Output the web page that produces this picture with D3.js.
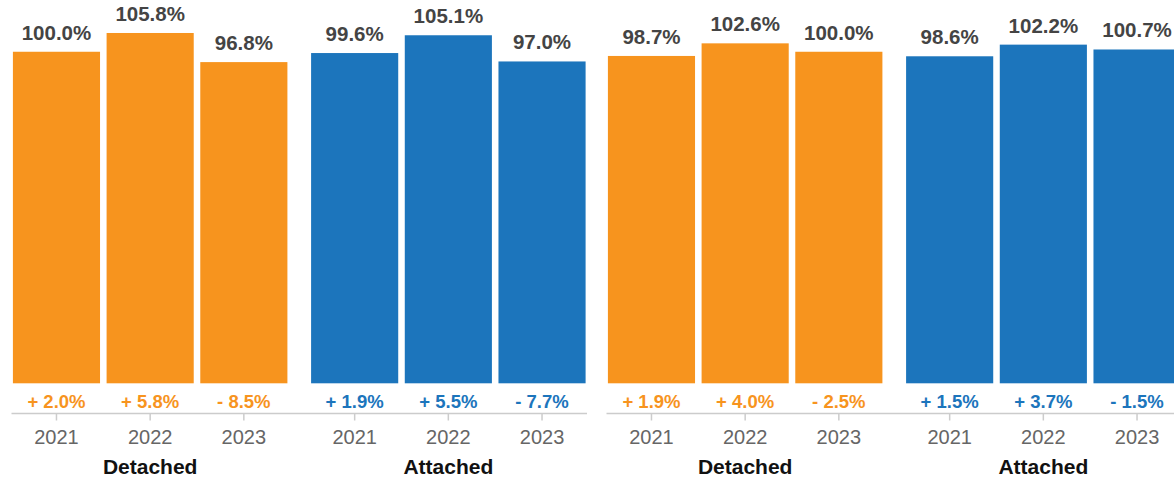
<!DOCTYPE html>
<html>
<head>
<meta charset="utf-8">
<script src="https://cdn.jsdelivr.net/npm/d3@7"></script>
<style>
  html, body { margin: 0; padding: 0; background: #fff; }
  svg { display: block; }
</style>
</head>
<body>
<svg id="chart" width="1174" height="481"></svg>
<script>
// ---- data ----
const years = ["2021", "2022", "2023"];
const groupLabels = ["Detached", "Attached"];
const leftDetached = [100.0, 105.8, 96.8];
const leftAttached = [99.6, 105.1, 97.0];
const rightDetached = [98.7, 102.6, 100.0];
const rightAttached = [98.6, 102.2, 100.7];
const leftDetachedChange = [2.0, 5.8, -8.5];
const leftAttachedChange = [1.9, 5.5, -7.7];
const rightDetachedChange = [1.9, 4.0, -2.5];
const rightAttachedChange = [1.5, 3.7, -1.5];

const colors = { Detached: "#F7941E", Attached: "#1C75BC" };

const charts = [
  { offset: 0, series: [
      { name: "Detached", values: leftDetached, change: leftDetachedChange },
      { name: "Attached", values: leftAttached, change: leftAttachedChange } ] },
  { offset: 595, series: [
      { name: "Detached", values: rightDetached, change: rightDetachedChange },
      { name: "Attached", values: rightAttached, change: rightAttachedChange } ] }
];

const svg = d3.select("#chart");
const font = "'Liberation Sans', Arial, Helvetica, sans-serif";
const baseY = 383.3;
const axisY = 413.5;

const y = d3.scaleLinear().domain([-2.5, 116]).range([baseY, 0]);
const x0 = d3.scaleBand().domain(groupLabels).range([11.5, 587]).paddingInner(0.07).paddingOuter(0);
const x1 = d3.scaleBand().domain(years).range([0, x0.bandwidth()]).paddingInner(0.07).paddingOuter(0.015);

const fmtVal = v => v.toFixed(1) + "%";
const fmtChg = v => (v >= 0 ? "+ " : "- ") + Math.abs(v).toFixed(1) + "%";

charts.forEach(ch => {
  const g = svg.append("g").attr("transform", `translate(${ch.offset},0)`);

  const axisG = g.append("g").attr("transform", `translate(0,${axisY})`);
  axisG.append("line")
    .attr("x1", x0.range()[0]).attr("x2", x0.range()[1])
    .attr("y1", 0).attr("y2", 0)
    .attr("stroke", "#cccccc").attr("stroke-width", 1.5);

  ch.series.forEach(s => {
    const gx = x0(s.name);
    const sg = g.append("g").attr("transform", `translate(${gx},0)`);
    const data = years.map((yr, i) => ({ yr, v: s.values[i], c: s.change[i] }));

    sg.selectAll("rect").data(data).join("rect")
      .attr("x", d => x1(d.yr))
      .attr("width", x1.bandwidth())
      .attr("y", d => y(d.v))
      .attr("height", d => baseY - y(d.v))
      .attr("fill", colors[s.name]);

    sg.selectAll("text.val").data(data).join("text")
      .attr("class", "val")
      .attr("x", d => x1(d.yr) + x1.bandwidth() / 2)
      .attr("y", d => y(d.v) - 12)
      .attr("text-anchor", "middle")
      .attr("font-family", font).attr("font-weight", "bold").attr("font-size", 20.5)
      .attr("fill", "#444444")
      .text(d => fmtVal(d.v));

    sg.selectAll("text.chg").data(data).join("text")
      .attr("class", "chg")
      .attr("x", d => x1(d.yr) + x1.bandwidth() / 2)
      .attr("y", 408)
      .attr("text-anchor", "middle")
      .attr("font-family", font).attr("font-weight", "bold").attr("font-size", 18.5)
      .attr("fill", colors[s.name])
      .text(d => fmtChg(d.c));

    const ax = d3.axisBottom(x1).tickSize(7).tickPadding(6);
    const ag = sg.append("g").attr("transform", `translate(0,${axisY})`).call(ax);
    ag.select(".domain").remove();
    ag.selectAll(".tick line").attr("stroke", "#cccccc").attr("stroke-width", 1.5);
    ag.selectAll(".tick text")
      .attr("font-family", font).attr("font-size", 20).attr("fill", "#666666")
      .attr("dy", null).attr("y", 30.5);

    sg.append("text")
      .attr("x", x0.bandwidth() / 2)
      .attr("y", 474)
      .attr("text-anchor", "middle")
      .attr("font-family", font).attr("font-weight", "bold").attr("font-size", 21)
      .attr("fill", "#111111")
      .text(s.name);
  });
});
</script>
</body>
</html>
